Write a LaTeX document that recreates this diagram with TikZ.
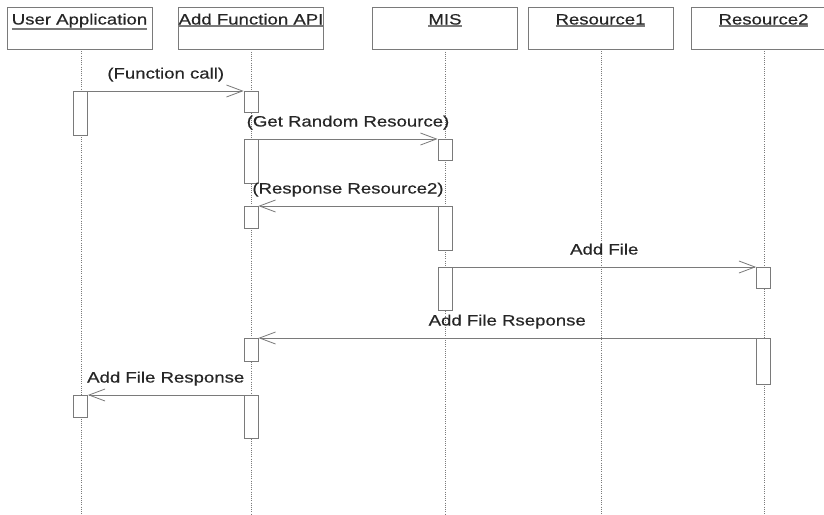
\documentclass[tikz,border=0pt]{standalone}
\usepackage{fontspec}
\setmainfont[FakeStretch=1.24,FakeBold=0.4]{Liberation Sans}
\usetikzlibrary{arrows.meta}
\definecolor{ln}{HTML}{7A7A7A}
\definecolor{tx}{HTML}{262626}
\newcommand\myul[1]{\leavevmode\vtop{\hbox{#1}\kern0.6pt{\color{ln}\hrule height 1.3pt}}}
\begin{document}
\begin{tikzpicture}[x=1pt,y=-1pt,
  font=\fontsize{15}{18}\selectfont,
  hdr/.style={draw=ln, line width=0.8pt, fill=white, minimum width=145pt, minimum height=42pt, inner sep=0pt},
  ttl/.style={text=tx, anchor=base, inner sep=0pt},
  life/.style={draw=ln, line width=0.7pt, dash pattern=on 1pt off 1.2pt},
  act/.style={draw=ln, line width=0.8pt, fill=white, minimum width=14pt, inner sep=0pt, anchor=north},
  msg/.style={draw=ln, line width=0.8pt, -{Straight Barb[length=16pt,width=12pt,line width=0.8pt]}},
  lbl/.style={midway, anchor=base, yshift=12.5pt, text=tx, inner sep=0pt}]
\clip (0,0) rectangle (824,514);
\fill[white] (0,0) rectangle (824,514);
% headers
\node[hdr] (h1) at (79.5,28) {};
\node[hdr] (h2) at (251,28) {};
\node[hdr] (h3) at (445,28) {};
\node[hdr] (h4) at (600.5,28) {};
\node[hdr] (h5) at (763.5,28) {};
\node[ttl] (t1) at (79.5,24.5) {\myul{User Application}};
\node[ttl] (t2) at (251,24.5) {\myul{Add Function API}};
\node[ttl] (t3) at (445,24.5) {\myul{MIS}};
\node[ttl] (t4) at (600.5,24.5) {\myul{Resource1}};
\node[ttl] (t5) at (763.5,24.5) {\myul{Resource2}};
% lifeline ends
\coordinate (e1) at (81,514);
\coordinate (e2) at (251,514);
\coordinate (e3) at (445,514);
\coordinate (e4) at (601,514);
\coordinate (e5) at (764,514);
\draw[life] (81,49) -- (e1);
\draw[life] (h2.south) -- (e2);
\draw[life] (h3.south) -- (e3);
\draw[life] (601,49) -- (e4);
\draw[life] (764,49) -- (e5);
% activations
\node[act, minimum height=44pt] (a1) at (80.5,91) {};
\node[act, minimum height=22pt] (a2) at (80.5,395) {};
\node[act, minimum height=21pt] (b1) at (251,91) {};
\node[act, minimum height=44pt] (b2) at (251,139) {};
\node[act, minimum height=22pt] (b3) at (251,206) {};
\node[act, minimum height=23pt] (b4) at (251,338) {};
\node[act, minimum height=43pt] (b5) at (251,395) {};
\node[act, minimum height=21pt] (c1) at (445,139) {};
\node[act, minimum height=44pt] (c2) at (445,206) {};
\node[act, minimum height=43pt] (c3) at (445,267) {};
\node[act, minimum height=21pt] (d1) at (763.5,267) {};
\node[act, minimum height=46pt] (d2) at (763.5,338) {};
% messages
\draw[msg] (a1.north east) -- node[lbl] {(Function call)} (b1.north west);
\draw[msg] (b2.north east) -- node[lbl] {(Get Random Resource)} (c1.north west);
\draw[msg] (c2.north west) -- node[lbl] {(Response Resource2)} (b3.north east);
\draw[msg] (c3.north east) -- node[lbl] {Add File} (d1.north west);
\draw[msg] (d2.north west) -- node[lbl] {Add File Rseponse} (b4.north east);
\draw[msg] (b5.north west) -- node[lbl] {Add File Response} (a2.north east);
\end{tikzpicture}
\end{document}
